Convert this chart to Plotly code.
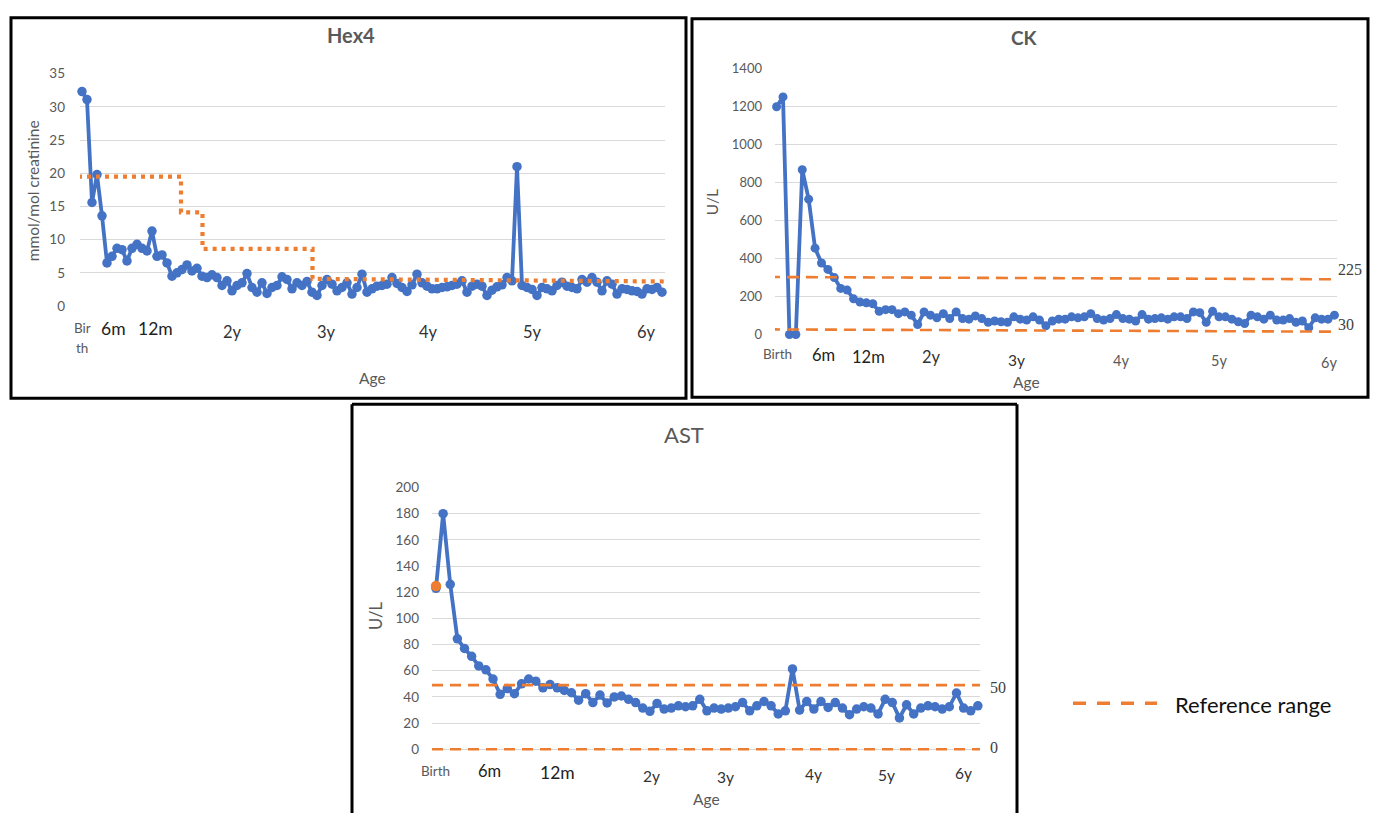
import plotly.graph_objects as go

W, H = 1376, 821

# ---------------- data ----------------
hex4_values = [
    32.3, 31.1, 15.6, 19.8, 13.6, 6.5, 7.5, 8.7, 8.5, 6.8,
    8.7, 9.3, 8.7, 8.3, 11.3, 7.5, 7.7, 6.5, 4.5, 5.0,
    5.5, 6.2, 5.3, 5.7, 4.5, 4.3, 4.7, 4.3, 3.1, 3.8,
    2.3, 3.1, 3.5, 4.9, 2.8, 2.1, 3.5, 1.9, 2.8, 3.1,
    4.4, 4.0, 2.6, 3.5, 3.1, 3.7, 2.1, 1.6, 3.1, 4.0,
    3.3, 2.3, 2.8, 3.5, 1.8, 2.8, 4.8, 2.1,
    2.6, 3.0, 3.1, 3.3, 4.3, 3.4, 2.8, 2.2, 3.2, 4.8,
    3.5, 3.0, 2.6, 2.6, 2.8, 2.9, 3.1, 3.3, 3.8, 2.1,
    3.0, 3.3, 3.0, 1.6, 2.4, 2.9, 3.2, 4.3, 3.8, 21.0,
    3.1, 2.8, 2.5, 1.6, 2.8, 2.6, 2.3, 3.1, 3.6, 3.0,
    2.8, 2.6, 4.0, 3.6, 4.3, 3.6, 2.3, 3.8, 3.3, 1.8,
    2.6, 2.5, 2.3, 2.2, 1.8, 2.6, 2.5, 2.8, 2.1,
]
hex4_ref_pos = [-0.8, 19.8, 19.8, 24.1, 24.1, 46.1, 46.1, 117.2]
hex4_ref_val = [19.5, 19.5, 14.1, 14.1, 8.6, 8.6, 4.1, 3.7]

ck_values = [
    1200, 1252, 0, 0, 868, 713, 455, 377, 343, 300,
    243, 234, 188, 171, 167, 162, 122, 131, 131, 110,
    119, 102, 53, 119, 102, 88, 110, 84, 119, 84,
    81, 98, 84, 64, 71, 67, 64, 93, 81, 76,
    93, 76, 46, 71, 81, 81, 93, 88, 93, 110,
    84, 76, 84, 105, 84, 81, 71, 105, 81, 84,
    88, 81, 93, 93, 84, 119, 115, 64, 122, 93,
    93, 81, 67, 58, 102, 93, 81, 102, 76, 76,
    84, 64, 71, 36, 88, 81, 81, 102,
]
ck_ref_pos = [-1.35, 87.6]
ck_ref_upper = [303, 291]
ck_ref_lower = [27, 15]

ast_values = [
    123, 180, 126, 84.4, 77, 71, 63.7, 60.7, 53.7, 42,
    46.4, 42.5, 50, 53.7, 52, 47, 49.4, 47, 45, 43.2,
    37.5, 42.5, 35.7, 41.4, 35.4, 40, 40.7, 38.2, 35.7, 31.5,
    29, 35, 30.7, 31.5, 33.2, 32.5, 33.2, 38.2, 29.4,
    31.5, 30.7, 31.5, 32.5, 35.7, 29.4, 33.2, 36.5, 33.2, 27,
    29.4, 61.4, 30, 36.5, 30.7, 36.5, 32, 35.7, 31.5, 26.4,
    30.7, 32.5, 31.5, 27, 38.2, 35.7, 24, 34, 27, 31.5,
    33.2, 32.5, 30.7, 32.5, 43, 31.5, 29.4, 33.2,
]
ast_first_value = 124.8
ast_ref_pos = [-0.56, 76.7]
ast_ref_upper = [49, 49]
ast_ref_lower = [0, 0]

tick_labels = ["Birth", "6m", "12m", "2y", "3y", "4y", "5y", "6y"]
hex4_tick_pos = [0, 6.2, 14.6, 30, 48.8, 69.2, 90, 112.8]
ck_tick_pos = [0.2, 7.3, 14.4, 24.2, 37.4, 53.7, 69, 86.1]
ast_tick_pos = [0, 7.5, 17, 30.2, 40.6, 53, 63.2, 74]

# ---------------- style ----------------
BLUE = "#4472C4"
ORANGE = "#ED7D31"
GRID = "#D9D9D9"
GRAY = "#595959"
FONT = "Lato"


def px(x):
    return x / W


def py(y):
    return 1 - y / H


fig = go.Figure()

# Hex4
fig.add_trace(go.Scatter(x=list(range(len(hex4_values))), y=hex4_values, mode="lines+markers",
                         line=dict(color=BLUE, width=3.8), marker=dict(color=BLUE, size=9.5),
                         cliponaxis=False, xaxis="x", yaxis="y"))
fig.add_trace(go.Scatter(x=hex4_ref_pos, y=hex4_ref_val, mode="lines",
                         line=dict(color=ORANGE, width=4.2, dash="4px,5px"), xaxis="x", yaxis="y"))

# CK
fig.add_trace(go.Scatter(x=list(range(len(ck_values))), y=ck_values, mode="lines+markers",
                         line=dict(color=BLUE, width=3.8), marker=dict(color=BLUE, size=9),
                         cliponaxis=False, xaxis="x2", yaxis="y2"))
for ref in (ck_ref_upper, ck_ref_lower):
    fig.add_trace(go.Scatter(x=ck_ref_pos, y=ref, mode="lines",
                             line=dict(color=ORANGE, width=2.6, dash="12px,7px"), xaxis="x2", yaxis="y2"))

# AST
fig.add_trace(go.Scatter(x=list(range(len(ast_values))), y=ast_values, mode="lines+markers",
                         line=dict(color=BLUE, width=3.8), marker=dict(color=BLUE, size=9.5),
                         cliponaxis=False, xaxis="x3", yaxis="y3"))
for ref in (ast_ref_upper, ast_ref_lower):
    fig.add_trace(go.Scatter(x=ast_ref_pos, y=ref, mode="lines",
                             line=dict(color=ORANGE, width=2.6, dash="11px,7px"), xaxis="x3", yaxis="y3"))
fig.add_trace(go.Scatter(x=[0], y=[ast_first_value], mode="markers",
                         marker=dict(color=ORANGE, size=10.5), cliponaxis=False, xaxis="x3", yaxis="y3"))


def xa(dom, rng, anchor):
    return dict(domain=[px(dom[0]), px(dom[1])], range=rng, anchor=anchor, showgrid=False,
                showticklabels=False, zeroline=False, showline=False, ticks="")


def ya(dom, rng, dtick, anchor, size, standoff):
    return dict(domain=[py(dom[1]), py(dom[0])], range=rng, anchor=anchor, dtick=dtick,
                showgrid=True, gridcolor=GRID, gridwidth=1.3, zeroline=False, showline=False,
                ticks="", tickfont=dict(size=size, color=GRAY, family=FONT),
                ticklabelstandoff=standoff)


fig.update_layout(
    width=W, height=H, margin=dict(l=0, r=0, t=0, b=0),
    paper_bgcolor="white", plot_bgcolor="white", showlegend=False,
    font=dict(family=FONT, color=GRAY),
    xaxis=xa((80, 665), [-0.4, 116.6], "y"),
    yaxis=ya((67, 304), [0, 35], 5, "x", 13.5, 14),
    xaxis2=xa((775, 1337), [-0.25, 87.4], "y2"),
    yaxis2=ya((62, 333), [0, 1400], 200, "x2", 13, 12),
    xaxis3=xa((432, 980), [-0.56, 76.3], "y3"),
    yaxis3=ya((489, 758.7), [-2, 200], 20, "x3", 13.5, 12),
)

ann = []


def text(x, y, t, size, color=GRAY, bold=False, angle=0, family=FONT, xanchor="center"):
    ann.append(dict(x=px(x), y=py(y), xref="paper", yref="paper", text=("<b>%s</b>" % t) if bold else t,
                    showarrow=False, textangle=angle, xanchor=xanchor, yanchor="middle",
                    font=dict(size=size, color=color, family=family)))


# titles
text(351, 28, "Hex4", 20, bold=True)
text(1024, 30, "CK", 19, bold=True)
text(684, 435, "AST", 22)
# axis titles
text(33, 187, "mmol/mol creatinine", 15.5, angle=-90)
text(712, 198, "U/L", 15.5, angle=-90)
text(376, 620, "U/L", 16.5, angle=-90)
text(372, 377, "Age", 15.5)
text(1026, 381, "Age", 15.5)
text(706, 807, "Age", 15.5)
# reference labels
SERIF = "Liberation Serif"
text(1336, 267, "225", 16, color="#404040", family=SERIF, xanchor="left")
text(1336, 323, "30", 16, color="#404040", family=SERIF, xanchor="left")
text(988, 693, "50", 16, color="#404040", family=SERIF, xanchor="left")
text(988, 754, "0", 16, color="#404040", family=SERIF, xanchor="left")
# legend
text(1173, 710, "Reference range", 22, color="#111111", xanchor="left")


def xlabels(axis, positions, ys, sizes, colors):
    for lab, pos, yy, s, c in zip(tick_labels, positions, ys, sizes, colors):
        if axis == "x" and lab == "Birth":
            for part, yp in (("Bir", 326), ("th", 347)):
                ann.append(dict(x=pos, y=py(yp), xref=axis, yref="paper", text=part, showarrow=False,
                                xanchor="center", yanchor="middle", font=dict(size=13.5, color=GRAY, family=FONT)))
            continue
        ann.append(dict(x=pos, y=py(yy), xref=axis, yref="paper", text=lab, showarrow=False,
                        xanchor="center", yanchor="middle", font=dict(size=s, color=c, family=FONT)))


DARK = "#222222"
MID = "#333333"
xlabels("x", hex4_tick_pos, [326, 327, 327, 330, 330, 330, 330, 330],
        [13, 17.5, 17.5, 16.5, 16.5, 16.5, 16.5, 16.5], [GRAY, DARK, DARK, MID, MID, MID, MID, MID])
xlabels("x2", ck_tick_pos, [353, 354, 356, 356, 359, 360, 360, 362],
        [13.5, 16.5, 16.5, 16.5, 15.5, 14.5, 14.5, 14.5], [GRAY, DARK, DARK, MID, MID, GRAY, GRAY, GRAY])
xlabels("x3", ast_tick_pos, [778, 778, 780, 783, 784, 781, 782, 780],
        [13.5, 16.5, 17.5, 15.5, 15.5, 15.5, 15.5, 15.5], [GRAY, DARK, DARK, MID, MID, MID, MID, MID])

fig.update_layout(annotations=ann)

shapes = []
for (x0, y0, x1, y1) in [(11, 10, 686, 398), (692, 11, 1368, 397)]:
    shapes.append(dict(type="rect", xref="paper", yref="paper", x0=px(x0), x1=px(x1), y0=py(y1), y1=py(y0),
                       line=dict(color="black", width=3), fillcolor="rgba(0,0,0,0)", layer="above"))
# AST panel frame (its bottom edge lies beyond the page)
for (x0, y0, x1, y1) in [(352, 404, 352, 821), (352, 404, 1017, 404), (1017, 404, 1017, 821)]:
    shapes.append(dict(type="line", xref="paper", yref="paper", x0=px(x0), x1=px(x1), y0=py(y0), y1=py(y1),
                       line=dict(color="black", width=3), layer="above"))
shapes.append(dict(type="line", xref="paper", yref="paper", x0=px(1073), x1=px(1157), y0=py(709), y1=py(709),
                   line=dict(color=ORANGE, width=3.5, dash="13px,11px")))
fig.update_layout(shapes=shapes)

fig.write_html("out.html", config={"displayModeBar": False},
               post_script="document.body.style.margin='0';document.body.style.overflow='hidden';")
